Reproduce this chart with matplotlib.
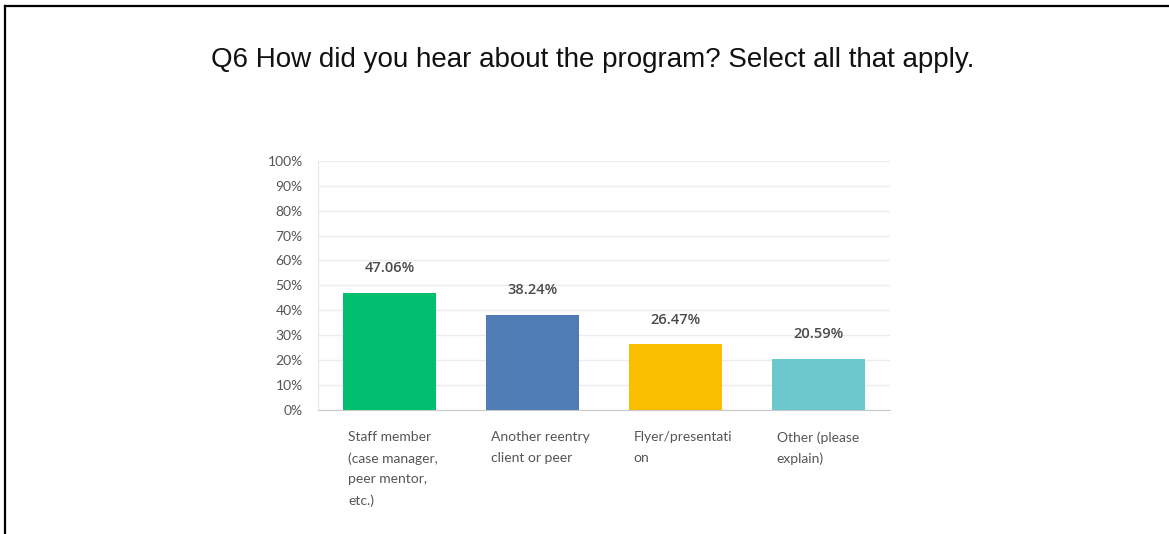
import matplotlib.pyplot as plt
from matplotlib.lines import Line2D

categories = ["Staff member\n(case manager,\npeer mentor,\netc.)",
              "Another reentry\nclient or peer",
              "Flyer/presentati\non",
              "Other (please\nexplain)"]
values = [47.06, 38.24, 26.47, 20.59]
colors = ["#00BF6F", "#507CB6", "#F9BE00", "#6BC8CD"]
yticks = list(range(0, 101, 10))

fig = plt.figure(figsize=(11.69, 5.34), dpi=100)
ax = fig.add_axes([0.272, 0.232, 0.489, 0.467])

x = list(range(len(values)))
bars = ax.bar(x, values, width=0.65, color=colors, zorder=3)

for xi, v in zip(x, values):
    ax.text(xi, v + 7, f"{v:.2f}%", ha="center", va="bottom",
            fontsize=10.5, color="#4a4a4a", fontweight="semibold", family="Open Sans")

for xi, lab in zip(x, categories):
    ax.text(xi - 0.29, -8.5, lab, ha="left", va="top", fontsize=10,
            color="#555555", family="Lato", linespacing=1.85)

ax.set_xlim(-0.5, 3.5)
ax.set_ylim(0, 100)
ax.set_yticks(yticks)
ax.set_yticklabels([f"{t}%" for t in yticks], fontsize=10, color="#555555", family="Lato")
ax.set_xticks([])
ax.tick_params(axis="y", length=0, pad=11)
ax.grid(axis="y", color="#ececec", linewidth=1, zorder=0)
for s in ["top", "right"]:
    ax.spines[s].set_visible(False)
ax.spines["left"].set_color("#e6e6e6")
ax.spines["bottom"].set_color("#c8c8c8")

fig.text(0.507, 0.887, "Q6 How did you hear about the program? Select all that apply.",
         ha="center", va="center", fontsize=20, family="Liberation Sans", color="#111111")

# frame around the page
fig.add_artist(Line2D([0.0045, 0.0045], [0, 0.989], transform=fig.transFigure, color="black", lw=1.6))
fig.add_artist(Line2D([0.0045, 1], [0.989, 0.989], transform=fig.transFigure, color="black", lw=1.6))

fig.savefig("out.png", dpi=100)
